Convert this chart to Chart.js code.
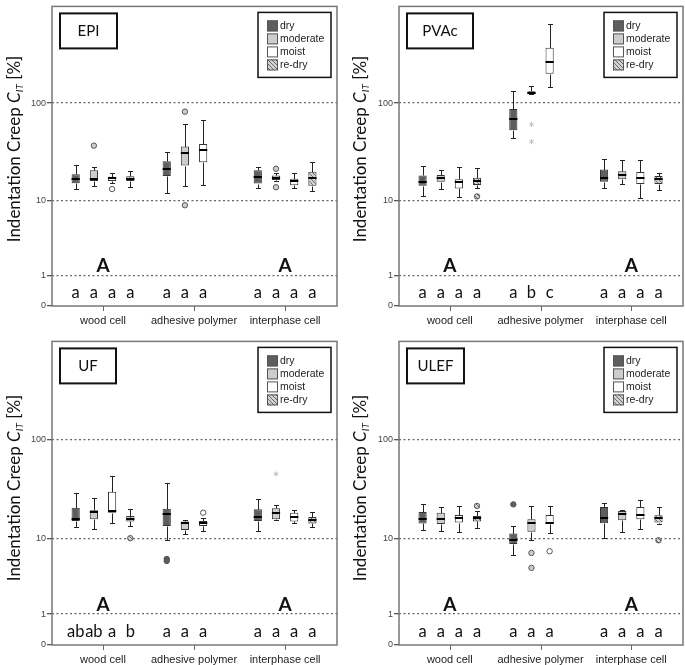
<!DOCTYPE html>
<html>
<head>
<meta charset="utf-8">
<script src="https://cdn.jsdelivr.net/npm/chart.js@4.4.1/dist/chart.umd.min.js"></script>
<style>
  body { margin: 0; background: #fff; }
  #wrap { position: relative; width: 685px; height: 665px; overflow: hidden; background: #fff; }
  canvas { position: absolute; }
  .ytitle { position: absolute; white-space: nowrap; font-family: Lato, sans-serif; font-size: 17px; color: #111;
            transform: translate(-50%, -50%) rotate(-90deg); }
  .ytitle sub { font-size: 10px; vertical-align: -3px; }
</style>
</head>
<body>
<div id="wrap">
  <canvas id="cEPI" width="345" height="330" style="left:0;top:0"></canvas>
  <canvas id="cPVAc" width="338" height="330" style="left:347px;top:0"></canvas>
  <canvas id="cUF" width="345" height="330" style="left:0;top:335px"></canvas>
  <canvas id="cULEF" width="338" height="330" style="left:347px;top:335px"></canvas>
  <div class="ytitle" style="left:14px;top:149px">Indentation Creep <i>C<sub>IT</sub></i> [%]</div>
  <div class="ytitle" style="left:360px;top:149px">Indentation Creep <i>C<sub>IT</sub></i> [%]</div>
  <div class="ytitle" style="left:14px;top:488px">Indentation Creep <i>C<sub>IT</sub></i> [%]</div>
  <div class="ytitle" style="left:360px;top:488px">Indentation Creep <i>C<sub>IT</sub></i> [%]</div>
</div>
<script>
// --- data ---
const categories = ['wood cell', 'adhesive polymer', 'interphase cell'];
const conditions = ['dry', 'moderate', 'moist', 're-dry'];
const yTickValues = [0, 1, 10, 100];
const yTickLabels = ['0', '1', '10', '100'];
const groupLetters = ['A', '', 'A'];

// box stats per category: [lower whisker, Q1, median, Q3, upper whisker]
const epiDry      = [[13.2, 15.3, 17.1, 19.0, 23.9], [12.1, 18.3, 21.8, 25.9, 32.1], [13.8, 15.2, 17.9, 21.0, 22.7]];
const epiModerate = [[14.2, 16.2, 17.1, 21.0, 22.5], [14.2, 23.4, 31.2, 36.6, 61.2], [16.2, 16.6, 17.5, 18.5, 19.7]];
const epiMoist    = [[15.6, 16.2, 17.2, 17.9, 19.6], [14.6, 25.3, 33.8, 38.8, 67.6], [13.6, 14.6, 16.2, 17.1, 19.6]];
const epiRedry    = [[14.1, 16.2, 17.1, 18.1, 20.5], null, [12.8, 14.4, 17.5, 20.2, 25.3]];
// outliers: [category, condition, value]
const epiOutliers = [[0, 1, 37.4], [0, 2, 13.3], [1, 1, 82.2], [1, 1, 8.9], [2, 1, 21.7], [2, 1, 13.9]];
const epiExtremes = [];
const epiLetters  = [['a', 'a', 'a', 'a'], ['a', 'a', 'a'], ['a', 'a', 'a', 'a']];

const pvacDry      = [[11.1, 14.4, 15.9, 18.5, 23.1], [45.2, 53.4, 69.6, 87.3, 131.7], [13.5, 15.9, 17.5, 21.3, 27.5]];
const pvacModerate = [[13.3, 15.9, 17.4, 18.7, 21.0], [122.3, 122.3, 127, 131.7, 149.7], [15.0, 16.9, 18.5, 20.5, 26.9]];
const pvacMoist    = [[10.9, 13.5, 15.9, 16.9, 22.5], [145.5, 196, 258, 356, 608], [10.7, 15.0, 17.5, 20.1, 26.9]];
const pvacRedry    = [[13.6, 14.7, 16.2, 17.5, 22.2], null, [13.0, 15.0, 16.9, 18.3, 19.7]];
const pvacOutliers = [[0, 3, 11.1]];
const pvacExtremes = [[1, 1, 61.2], [1, 1, 41]];
const pvacLetters  = [['a', 'a', 'a', 'a'], ['a', 'b', 'c'], ['a', 'a', 'a', 'a']];

const ufDry      = [[13.0, 15.2, 15.8, 20.8, 29.1], [9.6, 13.5, 18.1, 20.3, 36.8], [12.0, 15.2, 16.7, 20.1, 25.7]];
const ufModerate = [[12.6, 15.8, 18.8, 19.6, 26.1], [11.2, 12.2, 14.6, 15.0, 15.5], [15.6, 15.8, 18.3, 20.5, 22.2]];
const ufMoist    = [[14.4, 18.5, 19.3, 30.2, 43.2], [12.0, 13.5, 14.6, 15.2, 16.5], [14.3, 15.0, 16.7, 18.5, 19.7]];
const ufRedry    = [[13.5, 15.0, 16.1, 17.1, 20.1], null, [13.0, 14.3, 15.5, 16.7, 19.0]];
const ufOutliers = [[0, 3, 10.0], [1, 0, 5.9], [1, 0, 5.6], [1, 2, 18.5]];
const ufExtremes = [[2, 1, 45.5]];
const ufLetters  = [['ab', 'ab', 'a', 'b'], ['a', 'a', 'a'], ['a', 'a', 'a', 'a']];

const ulefDry      = [[12.2, 14.3, 15.8, 18.8, 22.5], [6.6, 8.65, 9.5, 11.2, 13.5], [10.0, 14.4, 16.5, 21.2, 23.4]];
const ulefModerate = [[12.0, 14.1, 16.1, 18.5, 21.2], [9.5, 11.7, 14.4, 15.8, 21.7], [11.7, 15.5, 17.8, 19.3, 19.7]];
const ulefMoist    = [[11.5, 14.6, 16.2, 17.5, 21.7], [11.3, 14.1, 14.6, 17.5, 21.6], [12.4, 15.8, 17.5, 21.2, 24.7]];
const ulefRedry    = [[12.8, 15.0, 16.2, 17.1, 19.3], null, [14.1, 14.6, 16.2, 17.4, 21.2]];
const ulefOutliers = [[0, 3, 21.7], [1, 0, 22.5], [1, 1, 6.9], [1, 1, 4.65], [1, 2, 7.2], [2, 3, 9.5]];
const ulefExtremes = [];
const ulefLetters  = [['a', 'a', 'a', 'a'], ['a', 'a', 'a'], ['a', 'a', 'a', 'a']];

// the axis is log10(x + 1), so 0 can sit at the bottom
const tf = v => Math.log10(v + 1);

Chart.defaults.font.family = "'Liberation Sans', Arial, sans-serif";

function makeHatch() {
    const c = document.createElement('canvas');
    c.width = 4; c.height = 4;
    const g = c.getContext('2d');
    g.fillStyle = '#d2d2d2';
    g.fillRect(0, 0, 4, 4);
    g.strokeStyle = '#6a6a6a';
    g.lineWidth = 1;
    g.beginPath();
    g.moveTo(0, 0); g.lineTo(4, 4);
    g.moveTo(-1, 3); g.lineTo(1, 5);
    g.moveTo(3, -1); g.lineTo(5, 1);
    g.stroke();
    return g.createPattern(c, 'repeat');
}
const fills = ['#5e5e5e', '#cdcdcd', '#ffffff', makeHatch()];

const panels = [
    { id: 'cEPI', name: 'EPI', stats: [epiDry, epiModerate, epiMoist, epiRedry], outliers: epiOutliers, extremes: epiExtremes, letters: epiLetters, labelWidth: 57, padTop: 1, padRight: 8, axisHeight: 24 },
    { id: 'cPVAc', name: 'PVAc', stats: [pvacDry, pvacModerate, pvacMoist, pvacRedry], outliers: pvacOutliers, extremes: pvacExtremes, letters: pvacLetters, labelWidth: 66, padTop: 1, padRight: 2, axisHeight: 24 },
    { id: 'cUF', name: 'UF', stats: [ufDry, ufModerate, ufMoist, ufRedry], outliers: ufOutliers, extremes: ufExtremes, letters: ufLetters, labelWidth: 56, padTop: 5, padRight: 8, axisHeight: 20 },
    { id: 'cULEF', name: 'ULEF', stats: [ulefDry, ulefModerate, ulefMoist, ulefRedry], outliers: ulefOutliers, extremes: ulefExtremes, letters: ulefLetters, labelWidth: 57, padTop: 5, padRight: 2, axisHeight: 20 }
];

function findBar(chart, cond, cat) {
    const ds = chart.data.datasets[cond];
    const j = ds.data.findIndex(p => p.x === cat);
    return j < 0 ? null : chart.getDatasetMeta(cond).data[j];
}

// whiskers, medians, outliers, letters, legend and frame
function makeBoxPlugin(p) {
    return {
        id: 'boxplot',
        beforeDatasetsDraw(chart) {
            const ctx = chart.ctx, y = chart.scales.y;
            const py = v => Math.round(y.getPixelForValue(tf(v))) + 0.5;
            ctx.save();
            ctx.strokeStyle = '#222';
            ctx.lineWidth = 1;
            chart.data.datasets.forEach((ds, d) => {
                chart.getDatasetMeta(d).data.forEach((bar, j) => {
                    const s = ds.data[j].stats;
                    const x = Math.round(bar.x) + 0.5;
                    ctx.beginPath();
                    ctx.moveTo(x, py(s[4])); ctx.lineTo(x, py(s[3]));
                    ctx.moveTo(x, py(s[1])); ctx.lineTo(x, py(s[0]));
                    ctx.moveTo(x - 2.5, py(s[4])); ctx.lineTo(x + 2.5, py(s[4]));
                    ctx.moveTo(x - 2.5, py(s[0])); ctx.lineTo(x + 2.5, py(s[0]));
                    ctx.stroke();
                });
            });
            ctx.restore();
        },
        afterDatasetsDraw(chart) {
            const ctx = chart.ctx, y = chart.scales.y, x = chart.scales.x;
            const area = chart.chartArea;
            ctx.save();

            // medians
            ctx.strokeStyle = '#000';
            ctx.lineWidth = 2;
            chart.data.datasets.forEach((ds, d) => {
                chart.getDatasetMeta(d).data.forEach((bar, j) => {
                    const m = Math.round(y.getPixelForValue(tf(ds.data[j].stats[2])));
                    ctx.beginPath();
                    ctx.moveTo(bar.x - bar.width / 2, m);
                    ctx.lineTo(bar.x + bar.width / 2, m);
                    ctx.stroke();
                });
            });

            // outliers (circles)
            ctx.lineWidth = 1;
            p.outliers.forEach(([cat, cond, v]) => {
                const bar = findBar(chart, cond, cat);
                if (!bar) return;
                ctx.beginPath();
                ctx.arc(bar.x, y.getPixelForValue(tf(v)), 2.7, 0, Math.PI * 2);
                ctx.fillStyle = fills[cond];
                ctx.fill();
                ctx.strokeStyle = '#555';
                ctx.stroke();
            });

            // extremes (stars)
            ctx.strokeStyle = '#bdbdbd';
            p.extremes.forEach(([cat, cond, v]) => {
                const bar = findBar(chart, cond, cat);
                if (!bar) return;
                const cy = y.getPixelForValue(tf(v));
                ctx.beginPath();
                for (let k = 0; k < 3; k++) {
                    const a = Math.PI / 2 + k * Math.PI / 3;
                    ctx.moveTo(bar.x - 2.5 * Math.cos(a), cy - 2.5 * Math.sin(a));
                    ctx.lineTo(bar.x + 2.5 * Math.cos(a), cy + 2.5 * Math.sin(a));
                }
                ctx.stroke();
            });

            // significance letters
            ctx.fillStyle = '#111';
            ctx.textAlign = 'center';
            ctx.textBaseline = 'middle';
            ctx.font = '16.5px Lato';
            p.letters.forEach((row, cat) => {
                row.forEach((txt, cond) => {
                    const bar = findBar(chart, cond, cat);
                    if (bar && txt) ctx.fillText(txt, bar.x, area.bottom - 13);
                });
            });
            ctx.font = 'bold 19px Lato';
            groupLetters.forEach((txt, cat) => {
                if (txt) ctx.fillText(txt, x.getPixelForValue(cat), area.bottom - 40);
            });

            // panel label
            const bx = area.left + 8, by = area.top + 7;
            ctx.fillStyle = '#fff';
            ctx.fillRect(bx, by, p.labelWidth, 35);
            ctx.strokeStyle = '#111';
            ctx.lineWidth = 2;
            ctx.strokeRect(bx, by, p.labelWidth, 35);
            ctx.fillStyle = '#111';
            ctx.font = '15px Lato';
            ctx.fillText(p.name, bx + p.labelWidth / 2, by + 18);

            // legend
            const lw = 73, lh = 65;
            const lx = area.right - 6 - lw, ly = area.top + 6;
            ctx.fillStyle = '#fff';
            ctx.fillRect(lx, ly, lw, lh);
            ctx.lineWidth = 1.5;
            ctx.strokeRect(lx, ly, lw, lh);
            ctx.textAlign = 'left';
            ctx.font = "10.5px 'Liberation Sans'";
            conditions.forEach((name, k) => {
                const ry = ly + 8 + k * 13;
                ctx.fillStyle = fills[k];
                ctx.fillRect(lx + 9, ry, 11, 11);
                ctx.strokeStyle = '#555';
                ctx.lineWidth = 1;
                ctx.strokeRect(lx + 9.5, ry + 0.5, 10, 10);
                ctx.fillStyle = '#222';
                ctx.fillText(name, lx + 22, ry + 6);
            });

            // frame and category tick marks
            ctx.strokeStyle = '#777';
            ctx.lineWidth = 1.5;
            ctx.strokeRect(area.left, area.top, area.right - area.left, area.bottom - area.top);
            ctx.strokeStyle = '#666';
            ctx.lineWidth = 1;
            ctx.beginPath();
            categories.forEach((c, i) => {
                const tx = Math.round(x.getPixelForValue(i)) + 0.5;
                ctx.moveTo(tx, area.bottom);
                ctx.lineTo(tx, area.bottom + 5);
            });
            ctx.stroke();
            ctx.restore();
        }
    };
}

panels.forEach(p => {
    const datasets = conditions.map((name, c) => ({
        label: name,
        data: categories.map((cat, i) => p.stats[c][i] && {
            x: i,
            y: [tf(p.stats[c][i][1]), tf(p.stats[c][i][3])],
            stats: p.stats[c][i]
        }).filter(Boolean),
        backgroundColor: fills[c],
        borderColor: '#333',
        borderWidth: 1,
        borderSkipped: false,
        barPercentage: 0.45,
        categoryPercentage: 0.8
    }));

    new Chart(document.getElementById(p.id), {
        type: 'bar',
        data: { datasets },
        options: {
            responsive: false,
            animation: false,
            devicePixelRatio: 1,
            layout: { padding: { top: p.padTop, right: p.padRight, bottom: 0, left: 0 } },
            plugins: { legend: { display: false }, tooltip: { enabled: false } },
            scales: {
                x: {
                    type: 'linear', min: -0.56, max: 2.57, offset: false,
                    afterBuildTicks: s => { s.ticks = categories.map((c, i) => ({ value: i })); },
                    afterFit: s => { s.height = p.axisHeight; },
                    ticks: { callback: v => categories[v], color: '#222', font: { size: 11 }, padding: 3, maxRotation: 0, minRotation: 0, autoSkip: false },
                    grid: { display: false, drawTicks: true, tickLength: 5 },
                    border: { display: false }
                },
                y: {
                    type: 'linear', min: 0, max: 2.96,
                    afterBuildTicks: s => { s.ticks = yTickValues.map(v => ({ value: tf(v) })); },
                    afterFit: s => { s.width = 52; },
                    ticks: { callback: (v, i) => yTickLabels[i], color: '#444', font: { size: 9 }, padding: 1 },
                    grid: {
                        color: c => (c.tick && c.tick.value === 0) ? 'rgba(0,0,0,0)' : '#666',
                        lineWidth: 1.3, tickColor: '#555', tickLength: 5, tickBorderDash: []
                    },
                    border: { display: false, dash: [2, 2.5] }
                }
            }
        },
        plugins: [makeBoxPlugin(p)]
    });
});
</script>
</body>
</html>
